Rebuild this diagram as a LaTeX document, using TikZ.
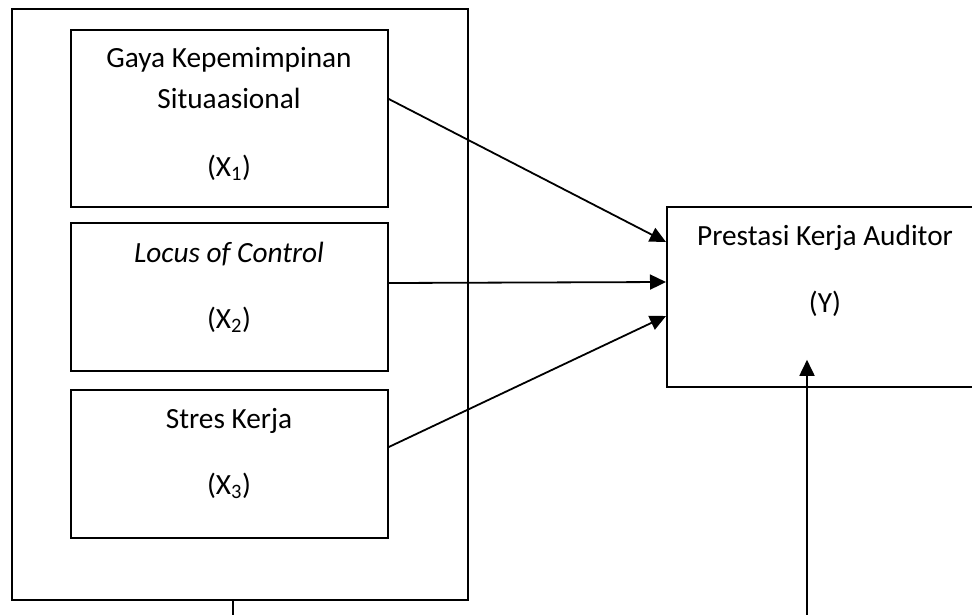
\documentclass[tikz,border=0pt]{standalone}
\usepackage{fontspec}
\setmainfont{Carlito}
\usetikzlibrary{arrows.meta}
\begin{document}
\begin{tikzpicture}[x=1pt,y=1pt,
  line width=1.8pt,
  box/.style={draw=black, line width=1.8pt, rectangle, anchor=north west, inner sep=0pt},
  lbl/.style={anchor=base, inner sep=0pt, font=\fontsize{29.3}{35}\selectfont},
  arr/.style={-{Triangle[length=16pt,width=15pt]}, line width=1.8pt}]
\clip (0,0) rectangle (972,-614);
\fill[white] (0,0) rectangle (972,-614);
% outer frame
\node[box, minimum width=456pt, minimum height=591pt] (outer) at (11,-8) {};
% inner boxes
\node[box, minimum width=317pt, minimum height=177pt] (b1) at (70,-29) {};
\node[box, minimum width=317pt, minimum height=148pt] (b2) at (70,-222) {};
\node[box, minimum width=317pt, minimum height=148pt] (b3) at (70,-389) {};
% dependent box
\node[box, minimum width=318pt, minimum height=180pt] (y) at (666,-206) {};
% texts
\node[lbl] (t1a) at (229,-67) {Gaya Kepemimpinan};
\node[lbl] (t1b) at (229,-108) {Situaasional};
\node[lbl] (t1c) at (229,-176) {(X\textsubscript{1})};
\node[lbl] (t2a) at (229,-262) {\itshape Locus of Control};
\node[lbl] (t2b) at (229,-328) {(X\textsubscript{2})};
\node[lbl] (t3a) at (229,-428) {Stres Kerja};
\node[lbl] (t3b) at (229,-494) {(X\textsubscript{3})};
\node[lbl] (tya) at (825,-245) {Prestasi Kerja Auditor};
\node[lbl] (tyb) at (825,-312) {(Y)};
% connectors
\draw[arr] ([yshift=-70pt]b1.north east) -- ([yshift=-36pt]y.north west);
\draw[arr] ([yshift=-61pt]b2.north east) -- ([yshift=-76pt]y.north west);
\draw[arr] ([yshift=-58pt]b3.north east) -- ([yshift=-110pt]y.north west);
\coordinate (outbot) at (233,-620);
\coordinate (ybot) at (807,-620);
\draw (outer.south west -| outbot) -- (outbot);
\draw[arr] (ybot) -- ([yshift=28pt]y.south west -| ybot);
\end{tikzpicture}
\end{document}
